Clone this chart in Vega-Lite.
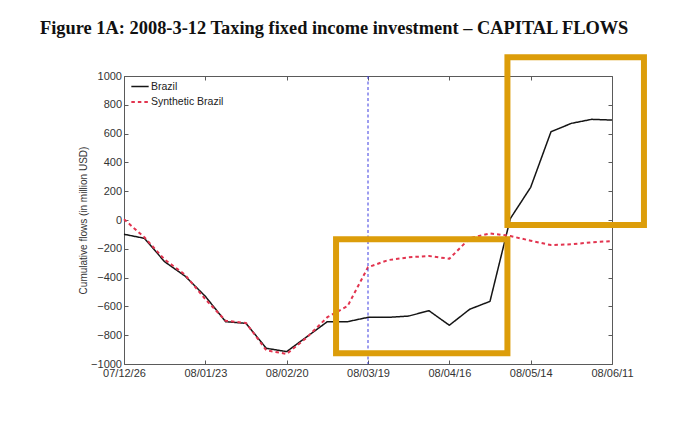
{
  "$schema": "https://vega.github.io/schema/vega-lite/v6.json",
  "width": 488,
  "height": 288,
  "autosize": "none",
  "padding": {"left": 124, "top": 76, "right": 85, "bottom": 57},
  "background": "white",
  "config": {
    "font": "Liberation Sans",
    "view": {"stroke": "#5a5a5a", "strokeWidth": 1},
    "axis": {
      "domain": false,
      "grid": false,
      "ticks": true,
      "tickSize": -4,
      "tickColor": "#5a5a5a",
      "labelFont": "Liberation Sans",
      "labelFontSize": 11,
      "labelColor": "#333333",
      "labelFlush": false,
      "labelOverlap": false
    }
  },
  "title": {
    "text": "Figure 1A: 2008-3-12 Taxing fixed income investment – CAPITAL FLOWS",
    "anchor": "start",
    "frame": "group",
    "dx": -84,
    "offset": 2,
    "baseline": "alphabetic",
    "font": "Liberation Serif",
    "fontSize": 18.4,
    "fontWeight": "bold",
    "color": "#111111"
  },
  "datasets": {
    "flows": [
      {"week": "2007-12-26", "series": "Brazil", "flow": -99},
      {"week": "2008-01-02", "series": "Brazil", "flow": -127},
      {"week": "2008-01-09", "series": "Brazil", "flow": -290},
      {"week": "2008-01-16", "series": "Brazil", "flow": -389},
      {"week": "2008-01-23", "series": "Brazil", "flow": -530},
      {"week": "2008-01-30", "series": "Brazil", "flow": -706},
      {"week": "2008-02-06", "series": "Brazil", "flow": -718},
      {"week": "2008-02-13", "series": "Brazil", "flow": -891},
      {"week": "2008-02-20", "series": "Brazil", "flow": -914},
      {"week": "2008-02-27", "series": "Brazil", "flow": -810},
      {"week": "2008-03-05", "series": "Brazil", "flow": -706},
      {"week": "2008-03-12", "series": "Brazil", "flow": -706},
      {"week": "2008-03-19", "series": "Brazil", "flow": -676},
      {"week": "2008-03-26", "series": "Brazil", "flow": -676},
      {"week": "2008-04-02", "series": "Brazil", "flow": -667},
      {"week": "2008-04-09", "series": "Brazil", "flow": -630},
      {"week": "2008-04-16", "series": "Brazil", "flow": -731},
      {"week": "2008-04-23", "series": "Brazil", "flow": -620},
      {"week": "2008-04-30", "series": "Brazil", "flow": -565},
      {"week": "2008-05-07", "series": "Brazil", "flow": 10},
      {"week": "2008-05-14", "series": "Brazil", "flow": 227},
      {"week": "2008-05-21", "series": "Brazil", "flow": 613},
      {"week": "2008-05-28", "series": "Brazil", "flow": 671},
      {"week": "2008-06-04", "series": "Brazil", "flow": 699},
      {"week": "2008-06-11", "series": "Brazil", "flow": 694},
      {"week": "2007-12-26", "series": "Synthetic Brazil", "flow": 5},
      {"week": "2008-01-02", "series": "Synthetic Brazil", "flow": -120},
      {"week": "2008-01-09", "series": "Synthetic Brazil", "flow": -275},
      {"week": "2008-01-16", "series": "Synthetic Brazil", "flow": -380},
      {"week": "2008-01-23", "series": "Synthetic Brazil", "flow": -550},
      {"week": "2008-01-30", "series": "Synthetic Brazil", "flow": -700},
      {"week": "2008-02-06", "series": "Synthetic Brazil", "flow": -715},
      {"week": "2008-02-13", "series": "Synthetic Brazil", "flow": -905},
      {"week": "2008-02-20", "series": "Synthetic Brazil", "flow": -930},
      {"week": "2008-02-27", "series": "Synthetic Brazil", "flow": -815},
      {"week": "2008-03-05", "series": "Synthetic Brazil", "flow": -675},
      {"week": "2008-03-12", "series": "Synthetic Brazil", "flow": -597},
      {"week": "2008-03-19", "series": "Synthetic Brazil", "flow": -328},
      {"week": "2008-03-26", "series": "Synthetic Brazil", "flow": -278},
      {"week": "2008-04-02", "series": "Synthetic Brazil", "flow": -259},
      {"week": "2008-04-09", "series": "Synthetic Brazil", "flow": -250},
      {"week": "2008-04-16", "series": "Synthetic Brazil", "flow": -269},
      {"week": "2008-04-23", "series": "Synthetic Brazil", "flow": -127},
      {"week": "2008-04-30", "series": "Synthetic Brazil", "flow": -93},
      {"week": "2008-05-07", "series": "Synthetic Brazil", "flow": -111},
      {"week": "2008-05-14", "series": "Synthetic Brazil", "flow": -144},
      {"week": "2008-05-21", "series": "Synthetic Brazil", "flow": -174},
      {"week": "2008-05-28", "series": "Synthetic Brazil", "flow": -169},
      {"week": "2008-06-04", "series": "Synthetic Brazil", "flow": -155},
      {"week": "2008-06-11", "series": "Synthetic Brazil", "flow": -146}
    ],
    "events": [
      {"week": "2008-03-19"}
    ],
    "highlights": [
      {"start": "2008-03-08", "end": "2008-05-06", "top": -134, "bottom": -926},
      {"start": "2008-05-06", "end": "2008-06-22", "top": 1130, "bottom": -35}
    ]
  },
  "resolve": {
    "scale": {"x": "shared", "y": "shared"},
    "axis": {"x": "independent", "y": "independent"}
  },
  "layer": [
    {
      "data": {"name": "flows"},
      "mark": {"type": "line", "strokeJoin": "round"},
      "encoding": {
        "x": {
          "field": "week",
          "type": "temporal",
          "scale": {
            "type": "utc",
            "domain": [
              {"year": 2007, "month": 12, "date": 26, "utc": true},
              {"year": 2008, "month": 6, "date": 11, "utc": true}
            ]
          },
          "axis": {
            "orient": "bottom",
            "title": null,
            "format": "%y/%m/%d",
            "labelPadding": 7,
            "values": [
              {"year": 2007, "month": 12, "date": 26, "utc": true},
              {"year": 2008, "month": 1, "date": 23, "utc": true},
              {"year": 2008, "month": 2, "date": 20, "utc": true},
              {"year": 2008, "month": 3, "date": 19, "utc": true},
              {"year": 2008, "month": 4, "date": 16, "utc": true},
              {"year": 2008, "month": 5, "date": 14, "utc": true},
              {"year": 2008, "month": 6, "date": 11, "utc": true}
            ]
          }
        },
        "y": {
          "field": "flow",
          "type": "quantitative",
          "scale": {"domain": [-1000, 1000], "nice": false, "zero": false},
          "axis": {
            "orient": "left",
            "title": "Cumulative flows (in million USD)",
            "titleFont": "Liberation Sans",
            "titleFontSize": 10,
            "titleFontWeight": "normal",
            "titleColor": "#333333",
            "titlePadding": 2,
            "labelPadding": 6.5,
            "format": "d",
            "values": [-1000, -800, -600, -400, -200, 0, 200, 400, 600, 800, 1000]
          }
        },
        "color": {
          "field": "series",
          "type": "nominal",
          "scale": {"domain": ["Brazil", "Synthetic Brazil"], "range": ["#151515", "#e2344f"]},
          "legend": {
            "title": null,
            "orient": "none",
            "legendX": 6,
            "legendY": 1,
            "padding": 0,
            "symbolType": "stroke",
            "symbolSize": 300,
            "symbolStrokeWidth": 1.7,
            "rowPadding": -2.6,
            "labelOffset": 1,
            "labelFont": "Liberation Sans",
            "labelFontSize": 10.5,
            "labelColor": "#222222"
          }
        },
        "strokeDash": {
          "field": "series",
          "type": "nominal",
          "scale": {"domain": ["Brazil", "Synthetic Brazil"], "range": [[1, 0], [3.5, 3]]},
          "legend": {
            "title": null,
            "orient": "none",
            "legendX": 6,
            "legendY": 1,
            "padding": 0,
            "symbolType": "stroke",
            "symbolSize": 300,
            "symbolStrokeWidth": 1.7,
            "rowPadding": -2.6,
            "labelOffset": 1,
            "labelFont": "Liberation Sans",
            "labelFontSize": 10.5,
            "labelColor": "#222222"
          }
        },
        "strokeWidth": {
          "field": "series",
          "type": "nominal",
          "scale": {"domain": ["Brazil", "Synthetic Brazil"], "range": [1.5, 2]},
          "legend": null
        }
      }
    },
    {
      "data": {"name": "events"},
      "mark": {"type": "rule", "color": "#3a3ae0", "strokeWidth": 1, "strokeDash": [3, 2.5]},
      "encoding": {
        "x": {
          "field": "week",
          "type": "temporal",
          "scale": {
            "type": "utc",
            "domain": [
              {"year": 2007, "month": 12, "date": 26, "utc": true},
              {"year": 2008, "month": 6, "date": 11, "utc": true}
            ]
          },
          "axis": {
            "orient": "top",
            "title": null,
            "labels": false,
            "values": [
              {"year": 2007, "month": 12, "date": 26, "utc": true},
              {"year": 2008, "month": 1, "date": 23, "utc": true},
              {"year": 2008, "month": 2, "date": 20, "utc": true},
              {"year": 2008, "month": 3, "date": 19, "utc": true},
              {"year": 2008, "month": 4, "date": 16, "utc": true},
              {"year": 2008, "month": 5, "date": 14, "utc": true},
              {"year": 2008, "month": 6, "date": 11, "utc": true}
            ]
          }
        }
      }
    },
    {
      "data": {"name": "highlights"},
      "mark": {"type": "rect", "fillOpacity": 0, "stroke": "#dc9d0a", "strokeWidth": 6, "clip": false},
      "encoding": {
        "x": {
          "field": "start",
          "type": "temporal",
          "scale": {
            "type": "utc",
            "domain": [
              {"year": 2007, "month": 12, "date": 26, "utc": true},
              {"year": 2008, "month": 6, "date": 11, "utc": true}
            ]
          },
          "axis": null
        },
        "x2": {"field": "end"},
        "y": {
          "field": "top",
          "type": "quantitative",
          "scale": {"domain": [-1000, 1000], "nice": false, "zero": false},
          "axis": {
            "orient": "right",
            "title": null,
            "labels": false,
            "values": [-1000, -800, -600, -400, -200, 0, 200, 400, 600, 800, 1000]
          }
        },
        "y2": {"field": "bottom"}
      }
    }
  ]
}
